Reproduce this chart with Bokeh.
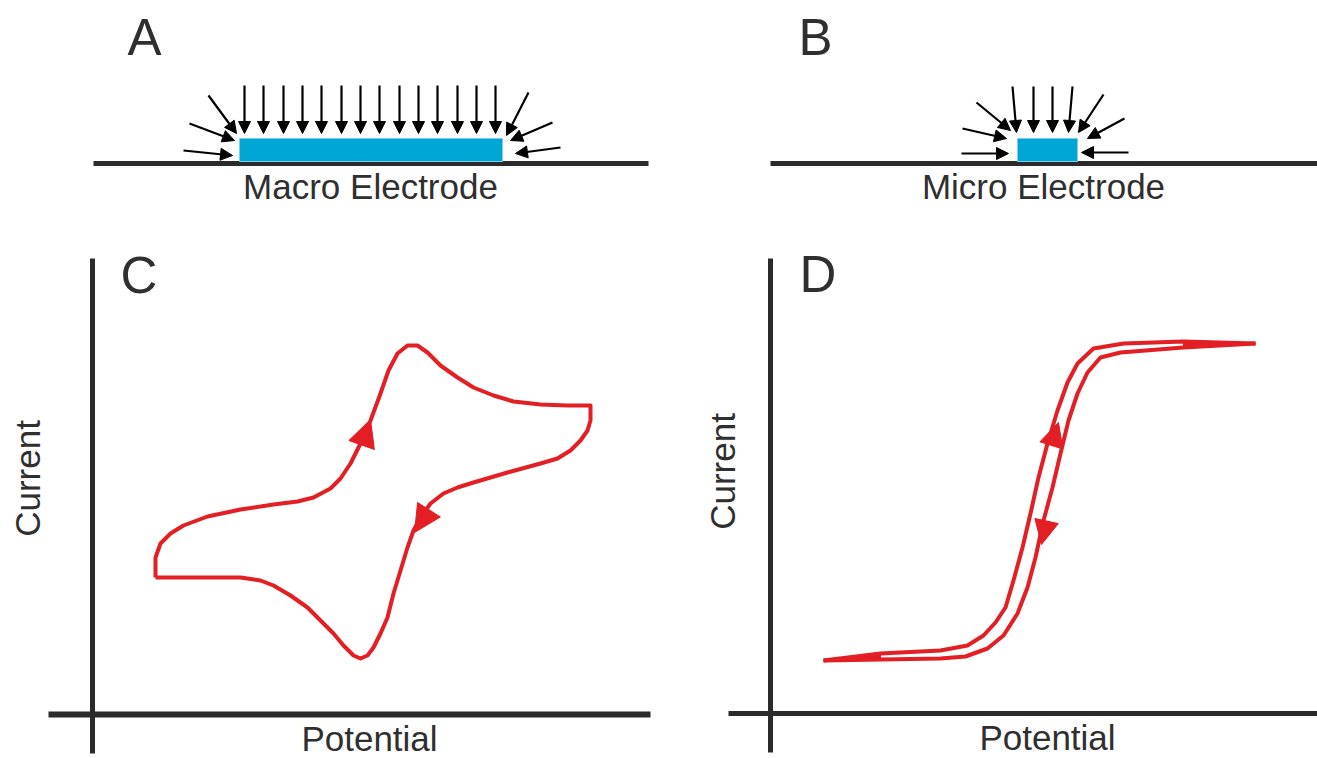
import math
from bokeh.plotting import figure
from bokeh.models import Range1d, Arrow, NormalHead, ColumnDataSource
from bokeh.core.properties import value
from bokeh.embed import file_html
from bokeh.resources import INLINE

# ---------------- data ----------------
# Panel C: cyclic voltammogram at a macro electrode (arbitrary units)
cv_potential = [63, 63, 68, 78, 91, 115, 148, 181, 205, 221, 238, 248, 258, 268, 278, 288, 296,
                305, 315, 325, 335, 348, 365, 381, 401, 421, 448, 475, 498,
                498, 495, 488, 478, 465, 448, 415, 381, 365, 351, 338, 328, 321, 315, 308, 301,
                295, 288, 281, 275, 268, 261, 251, 241, 228, 215, 198, 181, 168, 148, 131, 98, 63]
cv_current = [137, 157, 171, 181, 189, 198, 205, 210, 213, 217, 226, 236, 251, 271, 294, 321, 344,
              361, 369, 369, 362, 349, 337, 327, 319, 313, 310, 309, 309,
              294, 284, 274, 264, 256, 251, 242, 232, 227, 221, 211, 197, 184, 167, 144, 121,
              97, 81, 67, 59, 56, 59, 69, 81, 94, 107, 119, 129, 134, 137, 137, 137, 137]
# scan direction markers on the CV: [base, tip]
cv_arrow_up = {"potential": [269.5, 278], "current": [270.7, 295]}
cv_arrow_down = {"potential": [336, 322], "current": [204, 182]}

# Panel D: steady-state sigmoidal voltammogram at a micro electrode
sv_fwd_potential = [53, 110, 170, 197, 213, 225, 235, 243, 252, 260, 268, 277, 287, 297, 307,
                    323, 353, 413, 485]
sv_fwd_current = [53, 60, 63, 68, 78, 91, 106, 133, 166, 200, 236, 270, 303, 331, 350,
                  365, 370, 372, 370]
sv_rev_potential = [485, 413, 350, 330, 317, 307, 298, 290, 282, 273, 265, 257, 247, 233, 217,
                    195, 170, 110, 53]
sv_rev_current = [370, 366, 361, 356, 341, 320, 293, 260, 226, 193, 156, 126, 100, 78, 65,
                  57, 55, 54, 53]
sv_arrow_up = {"potential": [280.5, 288], "current": [267, 291]}
sv_arrow_down = {"potential": [276, 271], "current": [192, 169]}

# Panels A/B: diffusion arrows (page pixels, y downward)
macro_arrows = {
    "x0": [244, 263, 283, 302, 321, 341, 360, 379, 399, 418, 437, 457, 476, 495,
           208, 189, 183, 528, 552, 560],
    "y0": [85] * 14 + [95, 123, 150, 92, 122, 147],
    "x1": [244, 263, 283, 302, 321, 341, 360, 379, 399, 418, 437, 457, 476, 495,
           236, 234, 232, 506, 510, 515],
    "y1": [133] * 14 + [133, 140, 155, 135, 140, 153],
}
micro_arrows = {
    "x0": [1012, 1033, 1052, 1072, 976, 962, 961, 1103, 1124, 1128],
    "y0": [86, 86, 86, 86, 102, 128, 153, 94, 118, 152],
    "x1": [1016, 1033, 1052, 1068, 1010, 1006, 1008, 1078, 1087, 1081],
    "y1": [132, 132, 132, 132, 130, 138, 153, 132, 138, 152],
}

panel_letters = ["A", "B", "C", "D"]
electrode_labels = ["Macro Electrode", "Micro Electrode"]
axis_x_label = "Potential"
axis_y_label = "Current"

# ---------------- styling ----------------
W, H = 1317, 758
RED = "#e31e24"
DARK = "#2b2b2b"
TEXT = "#2f2f2f"
BLUE = "#00a6d6"
FONT = value("Liberation Sans")

p = figure(width=W, height=H, x_range=Range1d(0, W), y_range=Range1d(H, 0),
           output_backend="svg", toolbar_location=None, min_border=0,
           x_axis_type=None, y_axis_type=None, outline_line_color=None,
           background_fill_color="white", border_fill_color="white")
p.grid.visible = False
p.extra_x_ranges = {"cE": Range1d(-92, W - 92), "dE": Range1d(-770, W - 770)}
p.extra_y_ranges = {"cI": Range1d(-44, 714), "dI": Range1d(-45, 713)}

# ---------- Panels A & B: electrode schematics ----------
p.line([93, 648], [163, 163], line_width=5, line_color=DARK)
p.line([770, W], [163, 163], line_width=5, line_color=DARK)
p.quad(left=[239, 1017], right=[502, 1077], top=[138, 138], bottom=[161, 161],
       fill_color=BLUE, line_color="#7fcfea", line_width=1)

for arr in (macro_arrows, micro_arrows):
    src = ColumnDataSource(arr)
    p.add_layout(Arrow(x_start="x0", y_start="y0", x_end="x1", y_end="y1", source=src,
                       line_width=2.2, line_color="black",
                       end=NormalHead(size=12, fill_color="black", line_color="black",
                                      line_width=1)))

p.text(x=[370, 1043], y=[186, 186], text=electrode_labels, text_font=FONT,
       text_font_size=value("35px"), text_color=TEXT, text_align="center",
       text_baseline="alphabetic")

p.text(x=[127, 798, 120, 799], y=[37, 37, 275, 274], text=panel_letters, text_font=FONT,
       text_font_size=value("51px"), text_color=TEXT, text_align="left",
       text_baseline="alphabetic")

# ---------- Panel C ----------
kc = dict(x_range_name="cE", y_range_name="cI")
p.line([-44, 558], [0, 0], line_width=6, line_color=DARK, **kc)
p.line([0, 0], [-39, 456], line_width=5, line_color=DARK, **kc)
p.line(cv_potential, cv_current, line_width=4, line_color=RED, line_join="round", **kc)
for a in (cv_arrow_up, cv_arrow_down):
    p.add_layout(Arrow(x_start=a["potential"][0], y_start=a["current"][0],
                       x_end=a["potential"][1], y_end=a["current"][1], line_alpha=0,
                       end=NormalHead(size=27, fill_color=RED, line_color=RED),
                       **kc))
p.text(x=[277], y=[-24], text=[axis_x_label], text_font=FONT, text_font_size=value("35px"),
       text_color=TEXT, text_align="center", text_baseline="alphabetic", **kc)
p.text(x=[-65], y=[236], text=[axis_y_label], angle=math.pi / 2, text_font=FONT,
       text_font_size=value("35px"), text_color=TEXT, text_align="center",
       text_baseline="alphabetic", **kc)

# ---------- Panel D ----------
kd = dict(x_range_name="dE", y_range_name="dI")
p.line([-42, 560], [0, 0], line_width=5, line_color=DARK, **kd)
p.line([0, 0], [-39, 455], line_width=5, line_color=DARK, **kd)
# tapered tips where the forward and reverse scans meet
p.patch([sv_fwd_potential[0], sv_fwd_potential[1], sv_rev_potential[-2]],
        [sv_fwd_current[0], sv_fwd_current[1], sv_rev_current[-2]],
        fill_color=RED, line_color=RED, line_width=1, **kd)
p.patch([sv_fwd_potential[-1], sv_fwd_potential[-2], sv_rev_potential[1]],
        [sv_fwd_current[-1], sv_fwd_current[-2], sv_rev_current[1]],
        fill_color=RED, line_color=RED, line_width=1, **kd)
p.line(sv_fwd_potential, sv_fwd_current, line_width=4, line_color=RED, line_join="round", **kd)
p.line(sv_rev_potential, sv_rev_current, line_width=4, line_color=RED, line_join="round", **kd)
for a in (sv_arrow_up, sv_arrow_down):
    p.add_layout(Arrow(x_start=a["potential"][0], y_start=a["current"][0],
                       x_end=a["potential"][1], y_end=a["current"][1], line_alpha=0,
                       end=NormalHead(size=24, fill_color=RED, line_color=RED),
                       **kd))
p.text(x=[277], y=[-24], text=[axis_x_label], text_font=FONT, text_font_size=value("35px"),
       text_color=TEXT, text_align="center", text_baseline="alphabetic", **kd)
p.text(x=[-48], y=[242], text=[axis_y_label], angle=math.pi / 2, text_font=FONT,
       text_font_size=value("35px"), text_color=TEXT, text_align="center",
       text_baseline="alphabetic", **kd)

open("out.html", "w").write(file_html(p, INLINE))
